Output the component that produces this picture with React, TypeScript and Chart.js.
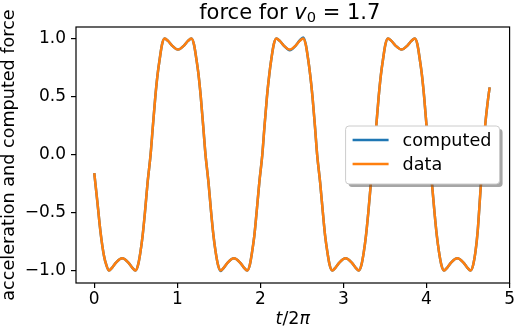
import React, { useEffect, useRef } from "react";
import { Chart, registerables } from "chart.js";
Chart.register(...registerables);

// t / 2π positions of the sampled points
const T_VALUES = [
  0.000, 0.036, 0.077, 0.116, 0.144, 0.175, 0.216, 0.264, 0.336, 0.408,
  0.456, 0.497, 0.528, 0.556, 0.582, 0.610, 0.642, 0.678, 0.705, 0.735,
  0.762, 0.789, 0.816, 0.846, 0.888, 0.936, 1.008, 1.080, 1.128, 1.170,
  1.200, 1.228, 1.255, 1.282, 1.312, 1.339, 1.375, 1.407, 1.435, 1.461,
  1.489, 1.520, 1.561, 1.609, 1.681, 1.753, 1.801, 1.842, 1.873, 1.900,
  1.927, 1.954, 1.987, 2.023, 2.049, 2.079, 2.107, 2.133, 2.161, 2.191,
  2.233, 2.281, 2.353, 2.425, 2.473, 2.515, 2.545, 2.573, 2.599, 2.627,
  2.657, 2.683, 2.719, 2.752, 2.779, 2.806, 2.833, 2.864, 2.905, 2.953,
  3.025, 3.097, 3.145, 3.186, 3.217, 3.245, 3.271, 3.299, 3.331, 3.367,
  3.394, 3.424, 3.451, 3.478, 3.505, 3.535, 3.577, 3.626, 3.698, 3.770,
  3.818, 3.860, 3.890, 3.917, 3.944, 3.971, 4.001, 4.028, 4.064, 4.096,
  4.124, 4.150, 4.178, 4.209, 4.250, 4.298, 4.370, 4.442, 4.490, 4.531,
  4.562, 4.589, 4.616, 4.645, 4.675, 4.706, 4.736, 4.760,
];

const DATA_VALUES = [
  -0.16, -0.40, -0.68, -0.87, -0.95, -1.0, -0.975, -0.93, -0.895, -0.93,
  -0.975, -1.0, -0.95, -0.84, -0.70, -0.50, -0.24, 0.0, 0.24, 0.50,
  0.69, 0.83, 0.95, 1.0, 0.98, 0.94, 0.905, 0.94, 0.98, 1.0,
  0.95, 0.83, 0.69, 0.50, 0.24, 0.0, -0.24, -0.50, -0.70, -0.84,
  -0.95, -1.0, -0.975, -0.93, -0.895, -0.93, -0.975, -1.0, -0.95, -0.84,
  -0.70, -0.50, -0.24, 0.0, 0.24, 0.50, 0.69, 0.83, 0.95, 1.0,
  0.98, 0.94, 0.905, 0.94, 0.98, 1.0, 0.95, 0.83, 0.69, 0.50,
  0.24, 0.0, -0.24, -0.50, -0.70, -0.84, -0.95, -1.0, -0.975, -0.93,
  -0.895, -0.93, -0.975, -1.0, -0.95, -0.84, -0.70, -0.50, -0.24, 0.0,
  0.24, 0.50, 0.69, 0.83, 0.95, 1.0, 0.98, 0.94, 0.905, 0.94,
  0.98, 1.0, 0.95, 0.83, 0.69, 0.50, 0.24, 0.0, -0.24, -0.50,
  -0.70, -0.84, -0.95, -1.0, -0.975, -0.93, -0.895, -0.93, -0.975, -1.0,
  -0.95, -0.84, -0.66, -0.36, -0.05, 0.25, 0.45, 0.58,
];

const COMPUTED_VALUES = [
  -0.16, -0.40, -0.68, -0.87, -0.95, -1.0, -0.975, -0.93, -0.895, -0.93,
  -0.975, -1.0, -0.95, -0.84, -0.70, -0.50, -0.24, 0.0, 0.24, 0.50,
  0.69, 0.83, 0.95, 1.0, 0.98, 0.94, 0.905, 0.94, 0.98, 1.0,
  0.95, 0.83, 0.69, 0.50, 0.24, 0.0, -0.24, -0.50, -0.70, -0.84,
  -0.95, -1.005, -0.975, -0.93, -0.895, -0.93, -0.975, -1.0, -0.95, -0.84,
  -0.70, -0.50, -0.24, 0.0, 0.24, 0.50, 0.69, 0.83, 0.95, 1.0,
  0.98, 0.94, 0.9, 0.94, 0.985, 1.01, 0.955, 0.83, 0.69, 0.50,
  0.24, 0.0, -0.24, -0.50, -0.70, -0.84, -0.95, -1.0, -0.975, -0.93,
  -0.895, -0.93, -0.975, -1.0, -0.95, -0.84, -0.70, -0.50, -0.24, 0.0,
  0.24, 0.50, 0.69, 0.83, 0.95, 1.0, 0.98, 0.94, 0.905, 0.94,
  0.98, 1.0, 0.95, 0.83, 0.69, 0.50, 0.24, 0.0, -0.24, -0.50,
  -0.70, -0.84, -0.95, -1.0, -0.975, -0.93, -0.895, -0.93, -0.975, -1.0,
  -0.95, -0.84, -0.66, -0.36, -0.05, 0.25, 0.45, 0.58,
];

const X_TICKS = [0, 1, 2, 3, 4, 5];
const Y_TICKS = [-1.0, -0.5, 0.0, 0.5, 1.0];
const SERIES_LABELS = ["computed", "data"];
const SERIES_COLORS = ["#1f77b4", "#ff7f0e"];
const Y_LABEL = "acceleration and computed force";
const TITLE_PARTS = ["force for ", "v", "0", " = 1.7"];
const X_LABEL_PARTS = ["t", "/2", "π"];

const FONT = "'DejaVu Sans', sans-serif";

function fmtTick(v: number) {
  return v.toFixed(1).replace("-", "\u2212");
}

type Part = { text: string; font: string; dy: number };

function drawRich(ctx: CanvasRenderingContext2D, parts: Part[], cx: number, baseline: number) {
  let total = 0;
  const widths = parts.map((p) => {
    ctx.font = p.font;
    const w = ctx.measureText(p.text).width;
    total += w;
    return w;
  });
  let x = cx - total / 2;
  ctx.textAlign = "left";
  ctx.textBaseline = "alphabetic";
  parts.forEach((p, i) => {
    ctx.font = p.font;
    ctx.fillText(p.text, x, baseline + p.dy);
    x += widths[i];
  });
}

const decorPlugin = {
  id: "decor",
  afterDatasetsDraw(chart: any) {
    const { ctx, chartArea } = chart;
    const { left, right, top, bottom } = chartArea;
    ctx.save();
    // spines
    ctx.strokeStyle = "#000";
    ctx.lineWidth = 1.2;
    ctx.strokeRect(left, top, right - left, bottom - top);

    // legend
    const lx = right - 164;
    const ly = top + 99;
    const lw = 154;
    const lh = 58;
    const r = 3.4;
    ctx.fillStyle = "rgba(77,77,77,0.5)";
    ctx.beginPath();
    ctx.roundRect(lx + 3, ly + 3, lw, lh, r);
    ctx.fill();
    ctx.fillStyle = "#fff";
    ctx.beginPath();
    ctx.roundRect(lx, ly, lw, lh, r);
    ctx.fill();
    ctx.strokeStyle = "#cccccc";
    ctx.lineWidth = 1;
    ctx.stroke();

    SERIES_LABELS.forEach((label, i) => {
      const y = ly + 14 + i * 24;
      ctx.strokeStyle = SERIES_COLORS[i];
      ctx.lineWidth = 2.5;
      ctx.beginPath();
      ctx.moveTo(lx + 7, y);
      ctx.lineTo(lx + 43, y);
      ctx.stroke();
      ctx.fillStyle = "#000";
      ctx.font = `17.6px ${FONT}`;
      ctx.textAlign = "left";
      ctx.textBaseline = "middle";
      ctx.fillText(label, lx + 57, y + 1);
    });
    ctx.restore();
  },
  afterDraw(chart: any) {
    const { ctx, chartArea } = chart;
    const cx = (chartArea.left + chartArea.right) / 2;
    ctx.save();
    ctx.fillStyle = "#000";
    drawRich(
      ctx,
      [
        { text: TITLE_PARTS[0], font: `21px ${FONT}`, dy: 0 },
        { text: TITLE_PARTS[1], font: `italic 21px ${FONT}`, dy: 0 },
        { text: TITLE_PARTS[2], font: `14.7px ${FONT}`, dy: 3 },
        { text: TITLE_PARTS[3], font: `21px ${FONT}`, dy: 0 },
      ],
      cx - 3,
      18.5
    );
    drawRich(
      ctx,
      [
        { text: X_LABEL_PARTS[0], font: `italic 17.5px ${FONT}`, dy: 0 },
        { text: X_LABEL_PARTS[1], font: `17.5px ${FONT}`, dy: 0 },
        { text: X_LABEL_PARTS[2], font: `italic 17.5px ${FONT}`, dy: 0 },
      ],
      cx,
      324
    );
    ctx.restore();
  },
};

export default function App() {
  const ref = useRef<HTMLCanvasElement | null>(null);

  useEffect(() => {
    if (!ref.current) return;
    const mk = (vals: number[]) => T_VALUES.map((t, i) => ({ x: t, y: vals[i] }));
    const chart = new Chart(ref.current, {
      type: "line",
      data: {
        datasets: [
          {
            label: SERIES_LABELS[0],
            data: mk(COMPUTED_VALUES),
            borderColor: SERIES_COLORS[0],
            borderWidth: 2.5,
            pointRadius: 0,
            cubicInterpolationMode: "monotone",
            fill: false,
            order: 1,
          },
          {
            label: SERIES_LABELS[1],
            data: mk(DATA_VALUES),
            borderColor: SERIES_COLORS[1],
            borderWidth: 2.5,
            pointRadius: 0,
            cubicInterpolationMode: "monotone",
            fill: false,
            order: 0,
          },
        ],
      },
      plugins: [decorPlugin],
      options: {
        responsive: false,
        animation: false,
        devicePixelRatio: 1,
        layout: { padding: { left: 0, top: 27, right: 5, bottom: 0 } },
        plugins: {
          legend: { display: false },
          title: { display: false },
          tooltip: { enabled: false },
        },
        scales: {
          x: {
            type: "linear",
            min: -0.22,
            max: 5.0,
            afterFit: (s: any) => {
              s.height = 45;
            },
            afterBuildTicks: (s: any) => {
              s.ticks = X_TICKS.map((v) => ({ value: v }));
            },
            grid: {
              drawOnChartArea: false,
              drawTicks: true,
              tickLength: 5,
              color: "#000",
              lineWidth: 1.2,
            },
            border: { display: false },
            ticks: {
              color: "#000",
              font: { family: FONT, size: 17 },
              padding: 1,
              maxRotation: 0,
              autoSkip: false,
              callback: (v: any) => String(v),
            },
          },
          y: {
            type: "linear",
            min: -1.108,
            max: 1.1,
            afterFit: (s: any) => {
              s.width = 76;
            },
            afterBuildTicks: (s: any) => {
              s.ticks = Y_TICKS.map((v) => ({ value: v }));
            },
            grid: {
              drawOnChartArea: false,
              drawTicks: true,
              tickLength: 5,
              color: "#000",
              lineWidth: 1.2,
            },
            border: { display: false },
            ticks: {
              color: "#000",
              font: { family: FONT, size: 17 },
              padding: 5,
              autoSkip: false,
              callback: (v: any) => fmtTick(Number(v)),
            },
            title: {
              display: true,
              text: Y_LABEL,
              color: "#000",
              font: { family: FONT, size: 17.6, lineHeight: 1 },
              padding: { top: 1, bottom: 0 },
            },
          },
        },
      },
    } as any);
    return () => chart.destroy();
  }, []);

  return (
    <div style={{ position: "fixed", left: 0, top: 0, width: 516, height: 328, background: "#fff" }}>
      <canvas ref={ref} width={516} height={328} style={{ display: "block" }} />
    </div>
  );
}
